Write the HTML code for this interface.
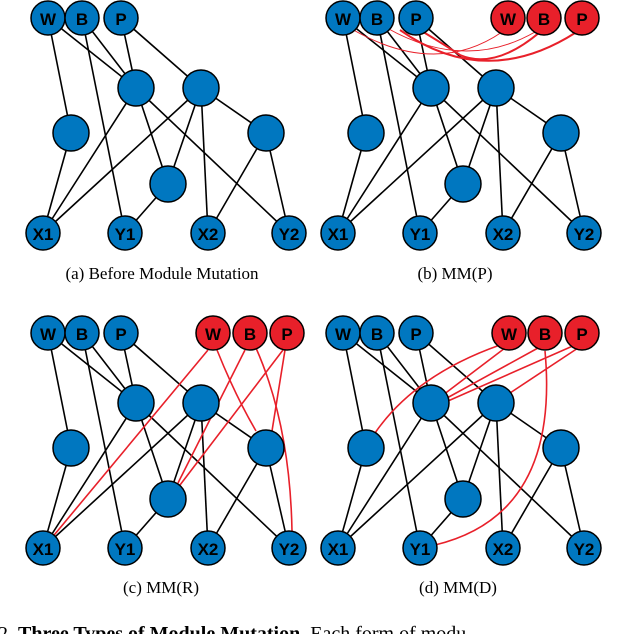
<!DOCTYPE html>
<html><head><meta charset="utf-8"><style>
html,body{margin:0;padding:0;background:#fff;width:632px;height:634px;overflow:hidden}
svg{display:block}
.n{fill:#0077c0;stroke:#000;stroke-width:1.5}
.r{fill:#e8202a;stroke:#000;stroke-width:1.5}
.t{font-family:"Liberation Sans",sans-serif;font-weight:bold;font-size:17px;text-anchor:middle;fill:#000}
.e{stroke:#000;stroke-width:1.6;fill:none}
.re{stroke:#e8202a;stroke-width:1.6;fill:none}
.cap{font-family:"Liberation Serif",serif;font-size:17px;text-anchor:middle;fill:#000}
</style></head><body>
<svg width="632" height="634" viewBox="0 0 632 634" xmlns="http://www.w3.org/2000/svg">
<defs>
<g id="edges">
<line class="e" x1="48" y1="18" x2="71" y2="133"/>
<line class="e" x1="48" y1="18" x2="136" y2="88"/>
<line class="e" x1="82" y1="18" x2="136" y2="88"/>
<line class="e" x1="82" y1="18" x2="125" y2="233"/>
<line class="e" x1="121" y1="18" x2="136" y2="88"/>
<line class="e" x1="121" y1="18" x2="201" y2="88"/>
<line class="e" x1="136" y1="88" x2="43" y2="233"/>
<line class="e" x1="136" y1="88" x2="168" y2="184"/>
<line class="e" x1="136" y1="88" x2="289" y2="233"/>
<line class="e" x1="201" y1="88" x2="43" y2="233"/>
<line class="e" x1="201" y1="88" x2="168" y2="184"/>
<line class="e" x1="201" y1="88" x2="208" y2="233"/>
<line class="e" x1="201" y1="88" x2="266" y2="133"/>
<line class="e" x1="71" y1="133" x2="43" y2="233"/>
<line class="e" x1="168" y1="184" x2="125" y2="233"/>
<line class="e" x1="266" y1="133" x2="208" y2="233"/>
<line class="e" x1="266" y1="133" x2="289" y2="233"/>
</g>
<g id="hidden">
<circle class="n" cx="136" cy="88" r="18"/>
<circle class="n" cx="201" cy="88" r="18"/>
<circle class="n" cx="71" cy="133" r="18"/>
<circle class="n" cx="266" cy="133" r="18"/>
<circle class="n" cx="168" cy="184" r="18"/>
</g>
</defs>

<!-- (a) -->
<g>
<use href="#edges"/>
<use href="#hidden"/>
<circle class="n" cx="48" cy="18" r="17"/><text class="t" x="48" y="25">W</text>
<circle class="n" cx="82" cy="18" r="17"/><text class="t" x="82" y="25">B</text>
<circle class="n" cx="121" cy="18" r="17"/><text class="t" x="121" y="25">P</text>
<circle class="n" cx="43" cy="233" r="17"/><text class="t" x="43" y="240">X1</text>
<circle class="n" cx="125" cy="233" r="17"/><text class="t" x="125" y="240">Y1</text>
<circle class="n" cx="208" cy="233" r="17"/><text class="t" x="208" y="240">X2</text>
<circle class="n" cx="289" cy="233" r="17"/><text class="t" x="289" y="240">Y2</text>
<text class="cap" x="162" y="279">(a) Before Module Mutation</text>
</g>

<!-- (b) -->
<g transform="translate(295,0)">
<use href="#edges"/>
<path class="re" style="stroke-width:1" d="M55,28 Q140,78 207,32"/>
<path class="re" style="stroke-width:1" d="M92,28 Q170,72 240,32"/>
<path class="re" style="stroke-width:2" d="M105,30 Q190,90 280,33"/>
<path class="re" style="stroke-width:2" d="M120,27 Q150,45 165,55 Q200,70 245,32"/>
<use href="#hidden"/>
<circle class="n" cx="48" cy="18" r="17"/><text class="t" x="48" y="25">W</text>
<circle class="n" cx="82" cy="18" r="17"/><text class="t" x="82" y="25">B</text>
<circle class="n" cx="121" cy="18" r="17"/><text class="t" x="121" y="25">P</text>
<circle class="r" cx="213" cy="18" r="17"/><text class="t" x="213" y="25">W</text>
<circle class="r" cx="249" cy="18" r="17"/><text class="t" x="249" y="25">B</text>
<circle class="r" cx="287" cy="18" r="17"/><text class="t" x="287" y="25">P</text>
<circle class="n" cx="43" cy="233" r="17"/><text class="t" x="43" y="240">X1</text>
<circle class="n" cx="125" cy="233" r="17"/><text class="t" x="125" y="240">Y1</text>
<circle class="n" cx="208" cy="233" r="17"/><text class="t" x="208" y="240">X2</text>
<circle class="n" cx="289" cy="233" r="17"/><text class="t" x="289" y="240">Y2</text>
<text class="cap" x="160" y="279">(b) MM(P)</text>
</g>

<!-- (c) -->
<g transform="translate(0,315)">
<use href="#edges"/>
<line class="re" x1="208" y1="35" x2="50" y2="225"/>
<path class="re" d="M217,35 Q235,80 256,116"/>
<line class="re" x1="245" y1="35" x2="178" y2="168"/>
<path class="re" d="M256,33 Q290,110 292,216"/>
<line class="re" x1="283" y1="35" x2="180" y2="170"/>
<line class="re" x1="285" y1="35" x2="272" y2="116"/>
<use href="#hidden"/>
<circle class="n" cx="48" cy="18" r="17"/><text class="t" x="48" y="25">W</text>
<circle class="n" cx="82" cy="18" r="17"/><text class="t" x="82" y="25">B</text>
<circle class="n" cx="121" cy="18" r="17"/><text class="t" x="121" y="25">P</text>
<circle class="r" cx="213" cy="18" r="17"/><text class="t" x="213" y="25">W</text>
<circle class="r" cx="250" cy="18" r="17"/><text class="t" x="250" y="25">B</text>
<circle class="r" cx="287" cy="18" r="17"/><text class="t" x="287" y="25">P</text>
<circle class="n" cx="43" cy="233" r="17"/><text class="t" x="43" y="240">X1</text>
<circle class="n" cx="125" cy="233" r="17"/><text class="t" x="125" y="240">Y1</text>
<circle class="n" cx="208" cy="233" r="17"/><text class="t" x="208" y="240">X2</text>
<circle class="n" cx="289" cy="233" r="17"/><text class="t" x="289" y="240">Y2</text>
<text class="cap" x="161" y="278">(c) MM(R)</text>
</g>

<!-- (d) -->
<g transform="translate(295,315)">
<use href="#edges"/>
<path class="re" d="M205,30 Q120,60 80,118"/>
<line class="re" x1="210" y1="33" x2="148" y2="80"/>
<line class="re" x1="243" y1="33" x2="152" y2="83"/>
<path class="re" d="M250,36 Q265,200 140,230"/>
<line class="re" x1="280" y1="30" x2="153" y2="86"/>
<line class="re" x1="283" y1="33" x2="215" y2="78"/>
<use href="#hidden"/>
<circle class="n" cx="48" cy="18" r="17"/><text class="t" x="48" y="25">W</text>
<circle class="n" cx="82" cy="18" r="17"/><text class="t" x="82" y="25">B</text>
<circle class="n" cx="121" cy="18" r="17"/><text class="t" x="121" y="25">P</text>
<circle class="r" cx="214" cy="18" r="17"/><text class="t" x="214" y="25">W</text>
<circle class="r" cx="250" cy="18" r="17"/><text class="t" x="250" y="25">B</text>
<circle class="r" cx="287" cy="18" r="17"/><text class="t" x="287" y="25">P</text>
<circle class="n" cx="43" cy="233" r="17"/><text class="t" x="43" y="240">X1</text>
<circle class="n" cx="125" cy="233" r="17"/><text class="t" x="125" y="240">Y1</text>
<circle class="n" cx="208" cy="233" r="17"/><text class="t" x="208" y="240">X2</text>
<circle class="n" cx="289" cy="233" r="17"/><text class="t" x="289" y="240">Y2</text>
<text class="cap" x="163" y="278">(d) MM(D)</text>
</g>

<text x="-2" y="640" style="font-family:'Liberation Serif',serif;font-size:20px">2.  <tspan font-weight="bold">Three Types of Module Mutation</tspan>. Each form of modu</text>
</svg>
</body></html>
